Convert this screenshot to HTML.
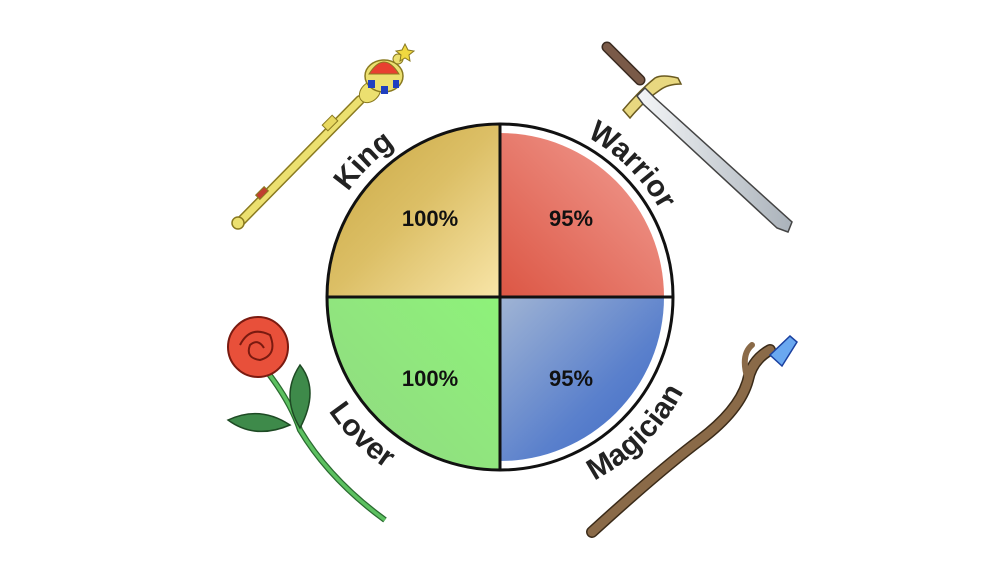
<!DOCTYPE html>
<html><head><meta charset="utf-8"><style>html,body{margin:0;padding:0;background:#fff}svg{display:block}</style></head>
<body>
<svg width="1000" height="582" viewBox="0 0 1000 582" xmlns="http://www.w3.org/2000/svg">
<defs>
<linearGradient id="gk" x1="0" y1="0" x2="1" y2="1"><stop offset="0" stop-color="#c8a640"/><stop offset="0.5" stop-color="#dcbf66"/><stop offset="1" stop-color="#f8e5a8"/></linearGradient>
<linearGradient id="gw" x1="1" y1="0" x2="0" y2="1"><stop offset="0" stop-color="#f2a096"/><stop offset="1" stop-color="#dc5644"/></linearGradient>
<linearGradient id="gl" x1="1" y1="0" x2="0" y2="1"><stop offset="0" stop-color="#8ef27a"/><stop offset="1" stop-color="#92d882"/></linearGradient>
<linearGradient id="gm" x1="0" y1="0" x2="1" y2="1"><stop offset="0" stop-color="#a0b4d4"/><stop offset="0.6" stop-color="#5a80cc"/><stop offset="1" stop-color="#3c68c4"/></linearGradient>
<linearGradient id="blade" x1="0" y1="0" x2="1" y2="0"><stop offset="0" stop-color="#f4f6f8"/><stop offset="1" stop-color="#aab2ba"/></linearGradient>
<path id="aK" d="M 339.9 389.5 A 185 185 0 0 1 592.5 136.9" fill="none"/>
<path id="aW" d="M 407.5 136.9 A 186 186 0 0 1 660.1 389.5" fill="none"/>
<path id="pLo" d="M 301 350 A 206 206 0 0 0 447 496" fill="none"/>
<path id="pMa" d="M 510 503 A 206 206 0 0 0 706 307" fill="none"/>
</defs>
<path d="M500 297 L327 297 A173 173 0 0 1 500 124 Z" fill="url(#gk)"/>
<path d="M500 297 L500 133 A164 164 0 0 1 664 297 Z" fill="url(#gw)"/>
<path d="M500 297 L327 297 A173 173 0 0 0 500 470 Z" fill="url(#gl)"/>
<path d="M500 297 L500 461 A164 164 0 0 0 664 297 Z" fill="url(#gm)"/>
<circle cx="500" cy="297" r="173" fill="none" stroke="#111" stroke-width="3"/>
<line x1="327" y1="297" x2="673" y2="297" stroke="#111" stroke-width="3"/>
<line x1="500" y1="124" x2="500" y2="470" stroke="#111" stroke-width="3"/>
<g font-family="Liberation Sans, DejaVu Sans, sans-serif" font-weight="bold" font-size="22" fill="#111" text-anchor="middle">
<text x="430" y="226">100%</text><text x="571" y="226">95%</text>
<text x="430" y="386">100%</text><text x="571" y="386">95%</text>
</g>
<g font-family="Liberation Sans, DejaVu Sans, sans-serif" font-weight="bold" font-size="30" fill="#222" text-anchor="middle">
<text><textPath href="#aK" startOffset="50%">King</textPath></text>
<text><textPath href="#aW" startOffset="50%">Warrior</textPath></text>
<text><textPath href="#pLo" startOffset="50%">Lover</textPath></text>
<text><textPath href="#pMa" startOffset="50%">Magician</textPath></text>
</g>
<!-- Scepter -->
<g>
<line x1="240" y1="222" x2="360" y2="100" stroke="#8a7a20" stroke-width="10" stroke-linecap="round"/>
<line x1="240" y1="222" x2="360" y2="100" stroke="#ece070" stroke-width="7" stroke-linecap="round"/>
<circle cx="238" cy="223" r="6" fill="#ece070" stroke="#8a7a20" stroke-width="1.5"/>
<rect x="323" y="119" width="14" height="8" fill="#e8d860" stroke="#8a7a20" transform="rotate(-45 330 123)"/>
<rect x="256" y="190" width="12" height="6" fill="#c04030" stroke="#8a7a20" transform="rotate(-45 262 193)"/>
<ellipse cx="370" cy="92" rx="12" ry="9" fill="#ece070" stroke="#8a7a20" transform="rotate(-45 370 92)"/>
<ellipse cx="384" cy="76" rx="19" ry="16" fill="#ece070" stroke="#8a7a20" stroke-width="1.5"/>
<path d="M369 74 Q384 50 399 74 Z" fill="#e84030" stroke="#8a7a20"/>
<rect x="368" y="80" width="7" height="8" fill="#2040c0"/><rect x="381" y="86" width="7" height="8" fill="#2040c0"/><rect x="393" y="80" width="6" height="8" fill="#2040c0"/>
<circle cx="398" cy="59" r="5" fill="#ece070" stroke="#8a7a20"/>
<path d="M405 44 l3 6 6 1 -5 4 1 6 -5 -3 -5 3 1 -6 -5 -4 6 -1z" fill="#f0d840" stroke="#8a7a20"/>
</g>
<!-- Sword -->
<g>
<line x1="607" y1="47" x2="640" y2="80" stroke="#3a2a20" stroke-width="11" stroke-linecap="round"/>
<line x1="607" y1="47" x2="640" y2="80" stroke="#7a5a48" stroke-width="8" stroke-linecap="round"/>
<path d="M623 110 Q640 90 655 78 Q662 74 678 78 L681 84 Q668 84 660 90 Q645 100 630 118 Z" fill="#e8d880" stroke="#6a5a20" stroke-width="1.5"/>
<path d="M645 88 L655 98 L792 222 L788 232 L777 228 L643 104 L637 96 Z" fill="url(#blade)" stroke="#444" stroke-width="1.5"/>
</g>
<!-- Rose -->
<g>
<path d="M262 365 Q290 400 300 430 Q330 480 385 520" fill="none" stroke="#2a6a30" stroke-width="6"/>
<path d="M262 365 Q290 400 300 430 Q330 480 385 520" fill="none" stroke="#5cc060" stroke-width="3.5"/>
<path d="M290 425 Q260 405 228 420 Q255 440 290 425Z" fill="#3e8a4a" stroke="#1e4a24" stroke-width="1.5"/>
<path d="M300 428 Q280 395 300 365 Q320 390 300 428Z" fill="#3e8a4a" stroke="#1e4a24" stroke-width="1.5"/>
<circle cx="258" cy="347" r="30" fill="#e8503a" stroke="#7a1a10" stroke-width="2"/>
<path d="M240 345 Q250 325 270 335 Q278 355 260 360 Q245 358 250 345 Q258 338 264 348" fill="none" stroke="#7a1a10" stroke-width="2"/>
</g>
<!-- Staff -->
<g>
<path d="M592 532 Q660 470 700 440 Q740 410 748 380 Q752 360 770 350" fill="none" stroke="#3a2a18" stroke-width="12" stroke-linecap="round"/>
<path d="M592 532 Q660 470 700 440 Q740 410 748 380 Q752 360 770 350" fill="none" stroke="#8a6a48" stroke-width="9" stroke-linecap="round"/>
<path d="M748 380 Q740 355 752 345" fill="none" stroke="#8a6a48" stroke-width="6" stroke-linecap="round"/>
<path d="M770 355 L790 336 L797 342 L782 366 Z" fill="#6aa8f0" stroke="#1a40a0" stroke-width="1.5"/>
</g>
</svg>
</body></html>
